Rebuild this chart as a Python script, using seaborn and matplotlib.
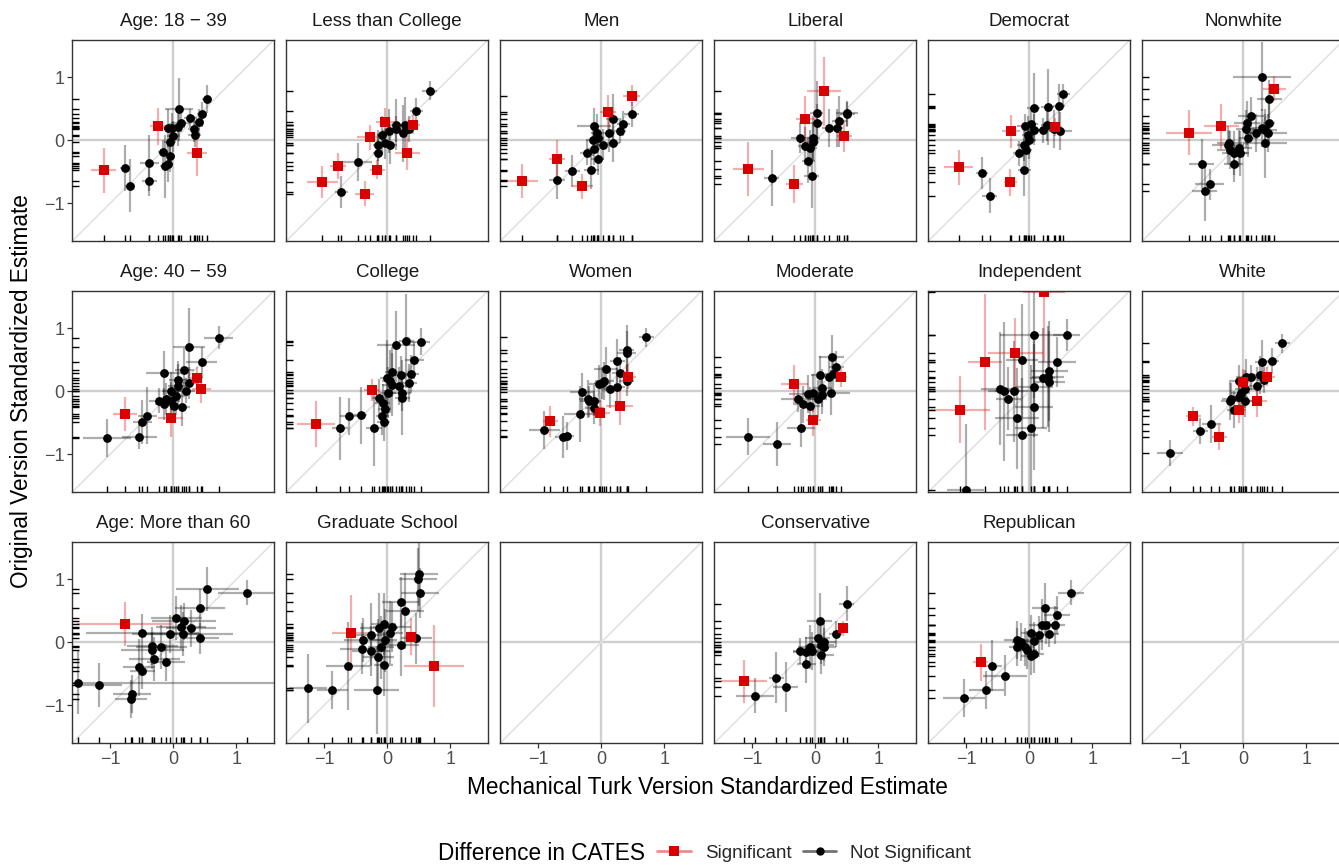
import numpy as np
import pandas as pd
import matplotlib
matplotlib.use("Agg")
import matplotlib.pyplot as plt
import seaborn as sns
from matplotlib.lines import Line2D

sns.set_theme(style="white")
plt.rcParams['font.family'] = ['Liberation Sans', 'DejaVu Sans']

# ---------------- data: (mturk, original, mturk_se, original_se, significant) ----------------
AGE_18_39 = [
    (-1.10, -0.48, 0.20, 0.35, 1), (-0.24, 0.22, 0.13, 0.30, 1), (0.37, -0.21, 0.16, 0.35, 1),
    (-0.76, -0.44, 0.08, 0.36, 0), (-0.68, -0.72, 0.08, 0.42, 0), (-0.38, -0.36, 0.15, 0.45, 0),
    (-0.38, -0.64, 0.12, 0.25, 0), (-0.17, -0.19, 0.08, 0.20, 0), (-0.05, -0.25, 0.08, 0.25, 0),
    (-0.13, -0.41, 0.08, 0.50, 0), (-0.09, -0.37, 0.08, 0.30, 0), (-0.05, -0.03, 0.10, 0.30, 0),
    (0.00, 0.06, 0.10, 0.25, 0), (-0.08, 0.20, 0.10, 0.30, 0), (-0.02, 0.19, 0.12, 0.25, 0),
    (0.09, 0.49, 0.22, 0.50, 0), (0.12, 0.28, 0.15, 0.15, 0), (0.07, 0.21, 0.12, 0.30, 0),
    (0.27, 0.35, 0.10, 0.15, 0), (0.33, 0.18, 0.10, 0.20, 0), (0.34, 0.09, 0.10, 0.20, 0),
    (0.41, 0.29, 0.08, 0.20, 0), (0.46, 0.41, 0.08, 0.20, 0), (0.53, 0.66, 0.08, 0.22, 0),
]
LESS_THAN_COLLEGE = [
    (-1.03, -0.66, 0.25, 0.25, 1), (-0.78, -0.41, 0.12, 0.20, 1), (-0.28, 0.05, 0.20, 0.20, 1),
    (-0.03, 0.29, 0.15, 0.22, 1), (0.40, 0.25, 0.12, 0.15, 1), (0.32, -0.20, 0.20, 0.27, 1),
    (-0.16, -0.47, 0.12, 0.15, 1), (-0.36, -0.85, 0.15, 0.20, 1),
    (-0.47, -0.34, 0.23, 0.30, 0), (-0.73, -0.82, 0.10, 0.25, 0), (-0.15, -0.20, 0.08, 0.30, 0),
    (-0.14, -0.08, 0.08, 0.25, 0), (-0.08, 0.08, 0.08, 0.30, 0), (-0.04, -0.05, 0.12, 0.25, 0),
    (0.02, 0.15, 0.10, 0.35, 0), (0.05, -0.07, 0.10, 0.30, 0), (0.14, 0.25, 0.10, 0.40, 0),
    (0.14, 0.18, 0.10, 0.20, 0), (0.25, 0.11, 0.10, 0.45, 0), (0.28, 0.24, 0.10, 0.45, 0),
    (0.34, 0.18, 0.10, 0.20, 0), (0.46, 0.47, 0.10, 0.20, 0), (0.67, 0.79, 0.12, 0.15, 0),
]
MEN = [
    (-1.26, -0.64, 0.25, 0.27, 1), (-0.70, -0.29, 0.13, 0.30, 1), (-0.30, -0.73, 0.17, 0.20, 1),
    (0.11, 0.45, 0.13, 0.27, 1), (0.48, 0.71, 0.13, 0.17, 1),
    (-0.70, -0.63, 0.13, 0.30, 0), (-0.46, -0.49, 0.12, 0.25, 0), (-0.16, -0.48, 0.12, 0.30, 0),
    (-0.06, -0.30, 0.10, 0.25, 0), (-0.23, -0.20, 0.10, 0.20, 0), (-0.12, -0.14, 0.10, 0.25, 0),
    (-0.11, 0.22, 0.27, 0.30, 0), (-0.07, 0.11, 0.10, 0.30, 0), (-0.13, 0.00, 0.12, 0.25, 0),
    (-0.05, 0.04, 0.10, 0.20, 0), (0.02, -0.07, 0.12, 0.25, 0), (0.12, 0.11, 0.10, 0.30, 0),
    (0.19, -0.04, 0.10, 0.30, 0), (0.18, 0.33, 0.10, 0.40, 0), (0.29, 0.15, 0.10, 0.20, 0),
    (0.35, 0.26, 0.10, 0.20, 0), (0.48, 0.41, 0.12, 0.20, 0),
]
LIBERAL = [
    (-1.06, -0.45, 0.25, 0.43, 1), (-0.33, -0.70, 0.13, 0.30, 1), (-0.16, 0.33, 0.15, 0.37, 1),
    (0.14, 0.78, 0.27, 0.55, 1), (0.46, 0.06, 0.12, 0.25, 1),
    (-0.69, -0.60, 0.12, 0.45, 0), (-0.24, 0.04, 0.15, 0.25, 0), (-0.17, -0.09, 0.10, 0.30, 0),
    (-0.11, -0.33, 0.10, 0.35, 0), (-0.06, -0.57, 0.12, 0.50, 0), (-0.08, -0.13, 0.10, 0.30, 0),
    (-0.04, -0.03, 0.10, 0.30, 0), (-0.03, 0.03, 0.10, 0.35, 0), (0.02, 0.44, 0.10, 0.50, 0),
    (0.02, 0.28, 0.10, 0.30, 0), (0.21, 0.20, 0.10, 0.30, 0), (0.34, 0.20, 0.10, 0.30, 0),
    (0.38, 0.30, 0.12, 0.40, 0), (0.50, 0.43, 0.17, 0.20, 0), (0.51, 0.41, 0.12, 0.20, 0),
]
DEMOCRAT = [
    (-1.12, -0.43, 0.23, 0.28, 1), (-0.29, 0.14, 0.15, 0.26, 1), (-0.30, -0.67, 0.10, 0.22, 1),
    (0.40, 0.21, 0.12, 0.15, 1),
    (-0.75, -0.52, 0.10, 0.25, 0), (-0.63, -0.88, 0.12, 0.28, 0), (-0.08, -0.48, 0.10, 0.40, 0),
    (-0.16, -0.21, 0.10, 0.20, 0), (-0.09, -0.08, 0.10, 0.25, 0), (-0.06, -0.16, 0.10, 0.25, 0),
    (0.00, 0.00, 0.10, 0.30, 0), (-0.02, 0.09, 0.10, 0.30, 0), (-0.07, 0.22, 0.12, 0.20, 0),
    (0.02, 0.26, 0.12, 0.25, 0), (0.08, 0.17, 0.12, 0.25, 0), (0.07, 0.52, 0.10, 0.55, 0),
    (0.22, 0.16, 0.12, 0.20, 0), (0.28, 0.24, 0.10, 0.25, 0), (0.29, 0.53, 0.10, 0.60, 0),
    (0.39, 0.18, 0.15, 0.30, 0), (0.47, 0.55, 0.10, 0.35, 0), (0.49, 0.15, 0.18, 0.30, 0),
    (0.54, 0.73, 0.10, 0.17, 0),
]
NONWHITE = [
    (-0.86, 0.12, 0.37, 0.36, 1), (-0.35, 0.22, 0.28, 0.36, 1), (0.49, 0.82, 0.18, 0.20, 1),
    (-0.66, -0.38, 0.20, 0.40, 0), (-0.61, -0.81, 0.20, 0.47, 0), (-0.53, -0.70, 0.23, 0.25, 0),
    (-0.24, -0.07, 0.25, 0.30, 0), (-0.22, -0.04, 0.20, 0.20, 0), (-0.21, -0.15, 0.20, 0.30, 0),
    (-0.14, -0.20, 0.20, 0.35, 0), (-0.15, -0.37, 0.15, 0.30, 0), (-0.07, -0.13, 0.20, 0.30, 0),
    (-0.06, -0.21, 0.15, 0.35, 0), (0.08, 0.04, 0.15, 0.30, 0), (0.04, 0.18, 0.15, 0.30, 0),
    (0.06, 0.27, 0.20, 0.35, 0), (0.12, 0.38, 0.20, 0.30, 0), (0.20, 0.12, 0.15, 0.30, 0),
    (0.29, 0.20, 0.15, 0.30, 0), (0.34, 0.16, 0.20, 0.25, 0), (0.39, 0.11, 0.30, 0.30, 0),
    (0.34, -0.05, 0.35, 0.55, 0), (0.41, 0.27, 0.10, 0.30, 0), (0.41, 0.65, 0.20, 0.30, 0),
    (0.30, 1.01, 0.46, 0.55, 0),
]
AGE_40_59 = [
    (-0.77, -0.36, 0.19, 0.27, 1), (-0.04, -0.43, 0.20, 0.30, 1), (0.37, 0.21, 0.10, 0.18, 1),
    (0.44, 0.03, 0.15, 0.22, 1),
    (-1.05, -0.74, 0.38, 0.30, 0), (-0.54, -0.72, 0.28, 0.20, 0), (-0.49, -0.49, 0.15, 0.35, 0),
    (-0.41, -0.39, 0.15, 0.45, 0), (-0.23, -0.15, 0.15, 0.20, 0), (-0.14, -0.20, 0.15, 0.25, 0),
    (-0.14, 0.29, 0.30, 0.35, 0), (-0.12, -0.12, 0.15, 0.25, 0), (-0.04, -0.15, 0.15, 0.30, 0),
    (-0.03, 0.01, 0.15, 0.30, 0), (0.01, -0.24, 0.15, 0.25, 0), (0.04, -0.08, 0.15, 0.30, 0),
    (0.07, 0.08, 0.15, 0.35, 0), (0.08, 0.18, 0.15, 0.30, 0), (0.14, -0.25, 0.12, 0.30, 0),
    (0.17, 0.33, 0.15, 0.35, 0), (0.20, 0.01, 0.15, 0.20, 0), (0.25, 0.13, 0.15, 0.25, 0),
    (0.25, 0.70, 0.25, 0.62, 0), (0.45, 0.46, 0.25, 0.25, 0), (0.72, 0.85, 0.23, 0.18, 0),
]
COLLEGE = [
    (-1.13, -0.52, 0.30, 0.37, 1), (-0.25, 0.02, 0.12, 0.18, 1),
    (-0.75, -0.59, 0.12, 0.50, 0), (-0.60, -0.40, 0.15, 0.30, 0), (-0.42, -0.38, 0.10, 0.45, 0),
    (-0.21, -0.59, 0.12, 0.60, 0), (-0.13, -0.10, 0.12, 0.30, 0), (-0.07, -0.19, 0.12, 0.30, 0),
    (-0.04, -0.28, 0.10, 0.30, 0), (-0.08, -0.40, 0.10, 0.30, 0), (-0.06, -0.49, 0.10, 0.30, 0),
    (0.00, 0.21, 0.12, 0.60, 0), (0.04, 0.16, 0.12, 0.50, 0), (0.07, 0.10, 0.15, 0.50, 0),
    (0.01, -0.02, 0.12, 0.40, 0), (0.08, 0.31, 0.12, 0.40, 0), (0.14, 0.73, 0.30, 0.55, 0),
    (0.19, 0.08, 0.12, 0.30, 0), (0.22, 0.26, 0.12, 0.30, 0), (0.23, -0.02, 0.15, 0.30, 0),
    (0.24, -0.10, 0.12, 0.60, 0), (0.30, 0.80, 0.12, 0.75, 0), (0.35, 0.13, 0.12, 0.30, 0),
    (0.38, 0.28, 0.12, 0.30, 0), (0.43, 0.49, 0.15, 0.30, 0), (0.53, 0.79, 0.15, 0.22, 0),
]
WOMEN = [
    (-0.81, -0.48, 0.12, 0.25, 1), (-0.02, -0.35, 0.15, 0.20, 1), (0.29, -0.23, 0.22, 0.30, 1),
    (0.43, 0.23, 0.12, 0.20, 1),
    (-0.90, -0.62, 0.25, 0.30, 0), (-0.61, -0.73, 0.12, 0.33, 0), (-0.55, -0.71, 0.12, 0.22, 0),
    (-0.34, -0.36, 0.25, 0.45, 0), (-0.30, -0.01, 0.20, 0.30, 0), (-0.21, -0.12, 0.15, 0.30, 0),
    (-0.19, -0.16, 0.15, 0.25, 0), (-0.12, -0.15, 0.12, 0.25, 0), (-0.11, -0.27, 0.15, 0.25, 0),
    (-0.04, 0.12, 0.15, 0.30, 0), (0.01, 0.13, 0.12, 0.25, 0), (0.05, 0.16, 0.15, 0.30, 0),
    (0.07, 0.35, 0.18, 0.35, 0), (0.13, 0.04, 0.12, 0.30, 0), (0.25, 0.07, 0.12, 0.30, 0),
    (0.25, 0.48, 0.12, 0.35, 0), (0.29, 0.29, 0.12, 0.25, 0), (0.40, 0.17, 0.12, 0.25, 0),
    (0.40, 0.66, 0.12, 0.40, 0), (0.40, 0.60, 0.15, 0.35, 0), (0.71, 0.86, 0.12, 0.15, 0),
]
MODERATE = [
    (-0.33, 0.11, 0.22, 0.30, 1), (-0.03, -0.46, 0.12, 0.25, 1), (0.40, 0.22, 0.10, 0.15, 1),
    (-1.06, -0.72, 0.35, 0.30, 0), (-0.61, -0.84, 0.22, 0.35, 0), (-0.27, -0.13, 0.28, 0.20, 0),
    (-0.20, -0.21, 0.15, 0.30, 0), (-0.08, -0.23, 0.15, 0.30, 0), (-0.23, -0.58, 0.22, 0.30, 0),
    (-0.11, -0.04, 0.30, 0.30, 0), (-0.04, -0.03, 0.15, 0.30, 0), (0.04, -0.12, 0.15, 0.30, 0),
    (0.11, -0.06, 0.15, 0.30, 0), (0.11, 0.05, 0.15, 0.30, 0), (0.08, 0.26, 0.15, 0.30, 0),
    (0.21, 0.23, 0.15, 0.30, 0), (0.25, -0.02, 0.30, 0.35, 0), (0.28, 0.27, 0.12, 0.25, 0),
    (0.33, 0.39, 0.12, 0.25, 0), (0.26, 0.54, 0.20, 0.35, 0),
]
INDEPENDENT = [
    (-1.10, -0.29, 0.48, 0.53, 1), (-0.70, 0.47, 0.27, 1.08, 1), (-0.22, 0.61, 0.43, 0.55, 1),
    (0.23, 1.57, 0.33, 1.10, 1),
    (-1.01, -1.57, 0.30, 1.05, 0), (-0.47, 0.04, 0.30, 0.90, 0), (-0.40, 0.00, 0.25, 1.10, 0),
    (-0.33, -0.12, 0.20, 0.50, 0), (-0.24, 0.00, 0.30, 0.80, 0), (-0.20, -0.43, 0.35, 0.80, 0),
    (-0.12, 0.49, 0.25, 0.90, 0), (-0.12, -0.69, 0.25, 0.90, 0), (0.03, -0.59, 0.25, 1.00, 0),
    (0.07, 0.07, 0.30, 0.80, 0), (0.08, 0.89, 0.55, 1.00, 0), (0.08, -0.25, 0.30, 1.00, 0),
    (0.21, 0.21, 0.20, 0.80, 0), (0.30, 0.23, 0.25, 0.80, 0), (0.32, 0.32, 0.30, 0.80, 0),
    (0.32, 0.15, 0.25, 0.80, 0), (0.44, 0.46, 0.30, 0.40, 0), (0.59, 0.89, 0.22, 0.25, 0),
]
WHITE = [
    (-0.79, -0.40, 0.12, 0.15, 1), (-0.38, -0.73, 0.12, 0.20, 1), (-0.07, -0.30, 0.12, 0.20, 1),
    (-0.01, 0.15, 0.12, 0.20, 1), (0.22, -0.16, 0.16, 0.25, 1), (0.38, 0.23, 0.12, 0.15, 1),
    (-1.16, -0.98, 0.20, 0.20, 0), (-0.68, -0.63, 0.12, 0.20, 0), (-0.51, -0.52, 0.15, 0.30, 0),
    (-0.21, -0.16, 0.15, 0.30, 0), (-0.19, -0.12, 0.15, 0.25, 0), (-0.14, -0.29, 0.12, 0.30, 0),
    (-0.07, 0.17, 0.15, 0.25, 0), (-0.04, -0.02, 0.15, 0.25, 0), (0.02, 0.04, 0.15, 0.30, 0),
    (-0.07, -0.09, 0.15, 0.20, 0), (0.02, -0.16, 0.15, 0.25, 0), (0.04, 0.22, 0.15, 0.30, 0),
    (0.12, 0.22, 0.12, 0.20, 0), (0.21, 0.09, 0.12, 0.30, 0), (0.26, 0.26, 0.12, 0.30, 0),
    (0.33, 0.18, 0.12, 0.20, 0), (0.30, 0.46, 0.12, 0.35, 0), (0.45, 0.48, 0.12, 0.20, 0),
    (0.62, 0.76, 0.12, 0.15, 0),
]
AGE_60_PLUS = [
    (-0.77, 0.29, 0.75, 0.35, 1),
    (-1.51, -0.64, 3.10, 0.50, 0), (-1.17, -0.68, 0.35, 0.35, 0), (-0.66, -0.82, 0.30, 0.30, 0),
    (-0.67, -0.90, 0.25, 0.30, 0), (-0.54, -0.40, 0.25, 0.45, 0), (-0.49, -0.45, 0.20, 0.30, 0),
    (-0.49, 0.15, 0.90, 0.30, 0), (-0.33, -0.06, 0.40, 0.30, 0), (-0.33, -0.13, 0.50, 0.30, 0),
    (-0.30, -0.27, 0.40, 0.35, 0), (-0.19, -0.07, 0.40, 0.35, 0), (-0.12, -0.32, 0.30, 0.30, 0),
    (-0.06, 0.13, 0.50, 0.30, 0), (0.05, 0.38, 0.40, 0.35, 0), (0.12, 0.24, 0.40, 0.35, 0),
    (0.17, 0.33, 0.50, 0.30, 0), (0.15, 0.13, 0.80, 0.35, 0), (0.28, 0.22, 0.40, 0.30, 0),
    (0.42, 0.54, 0.40, 0.30, 0), (0.43, 0.06, 0.30, 0.25, 0), (0.54, 0.85, 0.50, 0.35, 0),
    (1.16, 0.79, 0.45, 0.20, 0),
]
GRADUATE_SCHOOL = [
    (-0.57, 0.15, 0.30, 0.60, 1), (0.38, 0.09, 0.10, 0.30, 1), (0.74, -0.38, 0.48, 0.65, 1),
    (-1.25, -0.73, 0.30, 0.55, 0), (-0.87, -0.76, 0.25, 0.30, 0), (-0.62, -0.38, 0.35, 0.70, 0),
    (-0.40, -0.10, 0.35, 0.40, 0), (-0.39, 0.03, 0.30, 0.35, 0), (-0.26, -0.14, 0.30, 0.40, 0),
    (-0.26, 0.12, 0.25, 0.50, 0), (-0.17, -0.76, 0.35, 0.70, 0), (-0.14, -0.23, 0.25, 0.60, 0),
    (-0.13, 0.23, 0.30, 0.55, 0), (-0.10, -0.08, 0.20, 0.50, 0), (-0.06, 0.29, 0.20, 0.50, 0),
    (-0.06, -0.36, 0.15, 0.50, 0), (-0.04, 0.03, 0.20, 0.50, 0), (0.05, 0.15, 0.20, 0.50, 0),
    (0.08, 0.24, 0.30, 0.40, 0), (0.21, -0.04, 0.30, 0.50, 0), (0.21, 0.64, 0.30, 0.40, 0),
    (0.28, 0.50, 0.30, 0.60, 0), (0.46, 0.06, 0.25, 0.40, 0), (0.48, 1.00, 0.30, 0.50, 0),
    (0.50, 1.08, 0.30, 0.50, 0), (0.52, 0.78, 0.30, 0.40, 0),
]
CONSERVATIVE = [
    (-1.13, -0.62, 0.37, 0.34, 1), (0.44, 0.22, 0.08, 0.12, 1),
    (-0.95, -0.85, 0.30, 0.28, 0), (-0.62, -0.56, 0.12, 0.40, 0), (-0.47, -0.71, 0.20, 0.40, 0),
    (-0.24, -0.14, 0.12, 0.20, 0), (-0.14, -0.34, 0.15, 0.30, 0), (-0.15, -0.16, 0.20, 0.25, 0),
    (-0.08, -0.08, 0.20, 0.35, 0), (-0.06, -0.14, 0.15, 0.30, 0), (0.04, 0.06, 0.20, 0.30, 0),
    (0.07, 0.33, 0.20, 0.45, 0), (0.09, -0.04, 0.20, 0.30, 0), (0.13, 0.01, 0.20, 0.30, 0),
    (0.13, -0.07, 0.20, 0.30, 0), (0.09, -0.20, 0.20, 0.30, 0), (0.32, 0.13, 0.10, 0.20, 0),
    (0.50, 0.61, 0.12, 0.28, 0),
]
REPUBLICAN = [
    (-0.77, -0.32, 0.12, 0.30, 1),
    (-1.03, -0.88, 0.33, 0.30, 0), (-0.68, -0.76, 0.28, 0.30, 0), (-0.59, -0.37, 0.15, 0.40, 0),
    (-0.39, -0.53, 0.35, 0.32, 0), (-0.20, 0.04, 0.20, 0.30, 0), (-0.20, -0.08, 0.12, 0.30, 0),
    (-0.13, 0.01, 0.15, 0.30, 0), (-0.07, -0.08, 0.15, 0.30, 0), (-0.03, -0.12, 0.15, 0.30, 0),
    (0.02, 0.14, 0.15, 0.30, 0), (0.02, -0.22, 0.15, 0.30, 0), (0.07, 0.02, 0.15, 0.30, 0),
    (0.08, -0.19, 0.15, 0.30, 0), (0.16, 0.12, 0.15, 0.30, 0), (0.20, 0.28, 0.20, 0.40, 0),
    (0.27, 0.27, 0.15, 0.30, 0), (0.25, 0.54, 0.20, 0.40, 0), (0.32, 0.13, 0.15, 0.20, 0),
    (0.41, 0.28, 0.15, 0.30, 0), (0.44, 0.43, 0.20, 0.30, 0), (0.66, 0.79, 0.20, 0.20, 0),
]

PANEL_TITLES = [
    ["Age: 18 \u2212 39", "Less than College", "Men", "Liberal", "Democrat", "Nonwhite"],
    ["Age: 40 \u2212 59", "College", "Women", "Moderate", "Independent", "White"],
    ["Age: More than 60", "Graduate School", None, "Conservative", "Republican", None],
]
PANEL_DATA = {
    "Age: 18 \u2212 39": AGE_18_39, "Less than College": LESS_THAN_COLLEGE, "Men": MEN,
    "Liberal": LIBERAL, "Democrat": DEMOCRAT, "Nonwhite": NONWHITE,
    "Age: 40 \u2212 59": AGE_40_59, "College": COLLEGE, "Women": WOMEN,
    "Moderate": MODERATE, "Independent": INDEPENDENT, "White": WHITE,
    "Age: More than 60": AGE_60_PLUS, "Graduate School": GRADUATE_SCHOOL,
    "Conservative": CONSERVATIVE, "Republican": REPUBLICAN,
}
LIMITS = (-1.6, 1.6)
TICKS = [-1, 0, 1]
TICK_LABELS = ["\u22121", "0", "1"]
LEGEND_TITLE = "Difference in CATES"
LEGEND_LABELS = ["Significant", "Not Significant"]

RED = "#D90000"
COLS = ["mturk", "orig", "mturk_se", "orig_se", "sig"]

# ---------------- figure ----------------
W, H = 1339, 865
fig = plt.figure(figsize=(W / 100, H / 100), dpi=100)

left0, pitch_x, pw = 72.3, 214.0, 202.0
top0, pitch_y, ph = 39.5, 251.0, 201.5

GRID = "#CFCFCF"
DIAG = "#E2E2E2"
TXT = "#4D4D4D"

for r in range(3):
    for c in range(6):
        lx = left0 + c * pitch_x
        ty = top0 + r * pitch_y
        ax = fig.add_axes([lx / W, 1 - (ty + ph) / H, pw / W, ph / H])
        ax.set_xlim(*LIMITS)
        ax.set_ylim(*LIMITS)
        ax.set_facecolor("white")
        ax.axhline(0, color=GRID, lw=1.7, zorder=1)
        ax.axvline(0, color=GRID, lw=1.7, zorder=1)
        ax.axline((0, 0), slope=1, color=DIAG, lw=1.2, zorder=1)

        title = PANEL_TITLES[r][c]
        if title is not None:
            df = pd.DataFrame(PANEL_DATA[title], columns=COLS)
            ns = df[df.sig == 0]
            sg = df[df.sig == 1]
            ax.errorbar(ns.mturk, ns.orig, xerr=ns.mturk_se, yerr=ns.orig_se, fmt="none",
                        ecolor=(0, 0, 0, 0.32), elinewidth=1.6, capsize=0, zorder=2)
            ax.errorbar(sg.mturk, sg.orig, xerr=sg.mturk_se, yerr=sg.orig_se, fmt="none",
                        ecolor=(0.85, 0, 0, 0.32), elinewidth=1.6, capsize=0, zorder=2)
            sns.scatterplot(data=ns, x="mturk", y="orig", color="black", marker="o", s=40,
                            linewidth=0, ax=ax, legend=False, zorder=3)
            sns.scatterplot(data=sg, x="mturk", y="orig", color=RED, marker="s", s=46,
                            linewidth=0, ax=ax, legend=False, zorder=4)
            sns.rugplot(data=df, x="mturk", y="orig", height=0.032, color="black",
                        lw=1.3, ax=ax, zorder=3, clip_on=True)
            ax.text(0.5, 1.045, title, transform=ax.transAxes, ha="center", va="bottom",
                    fontsize=13.5, color="#1A1A1A")

        ax.set_xlabel("")
        ax.set_ylabel("")
        ax.set_xticks(TICKS)
        ax.set_yticks(TICKS)
        for sp in ax.spines.values():
            sp.set_color("#333333")
            sp.set_linewidth(1.0)
        ax.tick_params(direction="out", length=3.5, width=0.9, color="#333333",
                       labelsize=13, labelcolor=TXT, pad=2)
        if r == 2:
            ax.set_xticklabels(TICK_LABELS)
            ax.tick_params(axis="x", bottom=True, labelbottom=True)
        else:
            ax.tick_params(axis="x", bottom=False, labelbottom=False)
        if c == 0:
            ax.set_yticklabels(TICK_LABELS)
            ax.tick_params(axis="y", left=True, labelleft=True)
        else:
            ax.tick_params(axis="y", left=False, labelleft=False)

fig.text(707 / W, 1 - 788 / H, "Mechanical Turk Version Standardized Estimate",
         ha="center", va="center", fontsize=16.3, color="black")
fig.text(22 / W, 1 - 391 / H, "Original Version Standardized Estimate",
         ha="center", va="center", rotation=90, fontsize=16.3, color="black")

# legend
fig.text(645 / W, 1 - 853 / H, LEGEND_TITLE, ha="right", va="center",
         fontsize=16.3, color="black")
handles = [
    Line2D([0], [0], color=(0.85, 0, 0, 0.45), lw=2, marker="s", markersize=7,
           markerfacecolor=RED, markeredgewidth=0),
    Line2D([0], [0], color=(0, 0, 0, 0.55), lw=2, marker="o", markersize=6,
           markerfacecolor="black", markeredgewidth=0),
]
fig.legend(handles, LEGEND_LABELS, loc="center left",
           bbox_to_anchor=(657 / W, 1 - 853 / H), ncol=2, frameon=False,
           fontsize=13.5, handlelength=1.8, handletextpad=0.75, columnspacing=0.6,
           borderaxespad=0, borderpad=0)

fig.savefig("out.png", dpi=100)
